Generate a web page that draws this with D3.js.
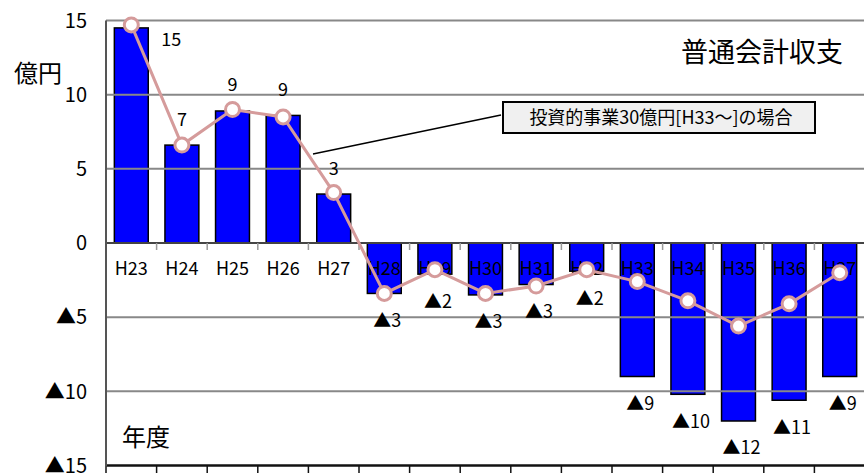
<!DOCTYPE html>
<html><head><meta charset="utf-8">
<script src="https://cdn.jsdelivr.net/npm/d3@7"></script>
<style>
html,body{margin:0;padding:0;background:#fff;}
text{font-family:"Noto Sans CJK JP","Noto Sans",sans-serif;fill:#000;}
</style></head>
<body>
<svg id="chart" width="864" height="473"></svg>
<script>
const categories = ["H23","H24","H25","H26","H27","H28","H29","H30","H31","H32","H33","H34","H35","H36","H37"];
const barValues = [14.5, 6.6, 8.9, 8.6, 3.3, -3.4, -2.1, -3.5, -2.8, -1.9, -9.0, -10.2, -12.0, -10.6, -9.0];
const lineValues = [14.7, 6.6, 9.0, 8.5, 3.4, -3.4, -1.8, -3.4, -2.9, -1.8, -2.6, -3.9, -5.6, -4.1, -2.0];
const barLabels = ["15","7","9","9","3","▲3","▲2","▲3","▲3","▲2","▲9","▲10","▲12","▲11","▲9"];
const yTicks = [15, 10, 5, 0, -5, -10, -15];
const yTickLabels = ["15","10","5","0","▲5","▲10","▲15"];
const title = "普通会計収支";
const unitLabel = "億円";
const xTitle = "年度";
const annotation = "投資的事業30億円[H33〜]の場合";

const svg = d3.select("#chart");
const pLeft = 106, pRight = 865, pTop = 20.5, pBottom = 465.5;

const x = d3.scaleBand().domain(categories).range([pLeft, pRight]).paddingInner(0.33).paddingOuter(0.165);
const y = d3.scaleLinear().domain([-15, 15]).range([pBottom, pTop]);
const step = x.step();
const cx = c => x(c) + x.bandwidth() / 2;

// bars
svg.append("g").selectAll("rect").data(categories).join("rect")
  .attr("x", c => x(c))
  .attr("width", x.bandwidth())
  .attr("y", (c, i) => Math.min(y(barValues[i]), y(0)))
  .attr("height", (c, i) => Math.abs(y(barValues[i]) - y(0)))
  .attr("fill", "#0000ff").attr("stroke", "#000").attr("stroke-width", 1.5);

// gridlines (drawn over bars)
svg.append("g").selectAll("line").data(yTicks.filter(v => v !== 0 && v !== -15)).join("line")
  .attr("x1", pLeft).attr("x2", 864).attr("y1", d => y(d)).attr("y2", d => y(d))
  .attr("stroke", "#888").attr("stroke-width", 2);

// zero axis
svg.append("line").attr("x1", pLeft).attr("x2", 864).attr("y1", y(0)).attr("y2", y(0))
  .attr("stroke", "#444").attr("stroke-width", 2);
const bounds = d3.range(categories.length + 1).map(i => pLeft + step * i);
svg.append("g").selectAll("line").data(bounds).join("line")
  .attr("x1", d => d).attr("x2", d => d).attr("y1", y(0)).attr("y2", y(0) + 7)
  .attr("stroke", "#999").attr("stroke-width", 1.5);

// bottom axis
svg.append("line").attr("x1", pLeft).attr("x2", 864).attr("y1", y(-15)).attr("y2", y(-15))
  .attr("stroke", "#111").attr("stroke-width", 2.5);
svg.append("g").selectAll("line").data(bounds).join("line")
  .attr("x1", d => d).attr("x2", d => d).attr("y1", y(-15)).attr("y2", 473)
  .attr("stroke", "#111").attr("stroke-width", 1.5);

// left axis
svg.append("line").attr("x1", pLeft).attr("x2", pLeft).attr("y1", y(15)).attr("y2", y(-15) + 1)
  .attr("stroke", "#555").attr("stroke-width", 2);

// y tick labels
svg.append("g").selectAll("text").data(yTicks).join("text")
  .attr("x", 87).attr("y", d => y(d)).attr("dy", "0.36em")
  .attr("text-anchor", "end").attr("font-size", 20)
  .text((d, i) => yTickLabels[i]);

// x labels
svg.append("g").selectAll("text").data(categories).join("text")
  .attr("x", c => cx(c)).attr("y", y(0) + 32)
  .attr("text-anchor", "middle").attr("font-size", 18)
  .text(c => c);

// annotation leader + box
svg.append("line").attr("x1", 313).attr("y1", 154).attr("x2", 501).attr("y2", 115)
  .attr("stroke", "#000").attr("stroke-width", 1.5);
svg.append("rect").attr("x", 503).attr("y", 102).attr("width", 312).attr("height", 31)
  .attr("fill", "#f0f0f0").attr("stroke", "#000").attr("stroke-width", 2);
svg.append("text").attr("x", 661).attr("y", 118).attr("dy", "0.36em")
  .attr("text-anchor", "middle").attr("font-size", 18).text(annotation);

// line
const line = d3.line().x((d, i) => cx(categories[i])).y(d => y(d));
svg.append("path").datum(lineValues).attr("d", line)
  .attr("fill", "none").attr("stroke", "#d59b9b").attr("stroke-width", 3);
svg.append("g").selectAll("circle").data(lineValues).join("circle")
  .attr("cx", (d, i) => cx(categories[i])).attr("cy", d => y(d)).attr("r", 7)
  .attr("fill", "#fff").attr("stroke", "#d59b9b").attr("stroke-width", 3);

// bar value labels
svg.append("g").selectAll("text").data(categories).join("text")
  .attr("x", (c, i) => i === 0 ? cx(c) + 40 : cx(c) + (barValues[i] < 0 ? 3 : 0))
  .attr("y", (c, i) => i === 0 ? 40 : (barValues[i] < 0 ? y(barValues[i]) + 27 : y(barValues[i]) - 26))
  .attr("dy", "0.36em").attr("text-anchor", "middle").attr("font-size", 18)
  .text((c, i) => barLabels[i]);

// titles
svg.append("text").attr("x", 843).attr("y", 52).attr("dy", "0.36em")
  .attr("text-anchor", "end").attr("font-size", 27).text(title);
svg.append("text").attr("x", 14).attr("y", 73).attr("dy", "0.36em")
  .attr("font-size", 24).text(unitLabel);
svg.append("text").attr("x", 122).attr("y", 437).attr("dy", "0.36em")
  .attr("font-size", 24).text(xTitle);
</script>
</body></html>
